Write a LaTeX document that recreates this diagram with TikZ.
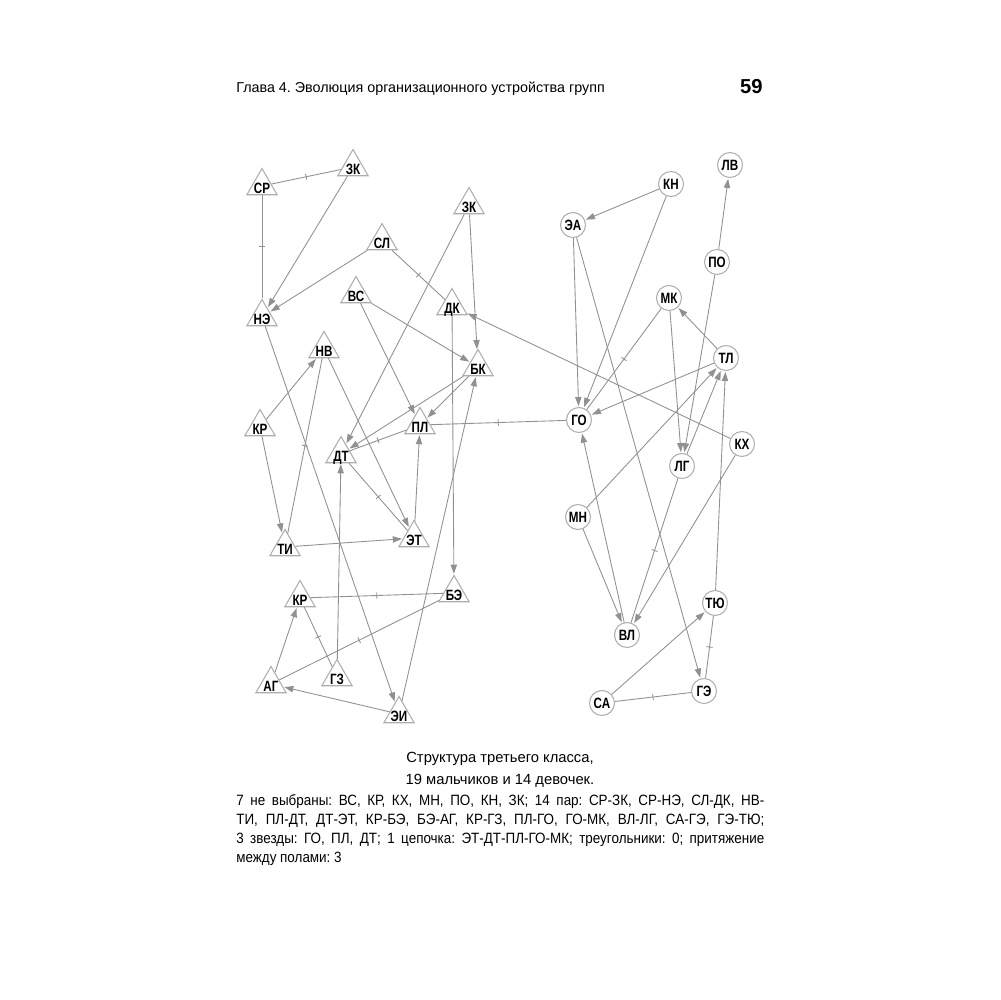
\documentclass[tikz,border=0pt]{standalone}
\usepackage{fontspec}
\setmainfont{Liberation Sans}
\newfontfamily\lblfont[FakeStretch=0.78]{Liberation Sans}
\newfontfamily\txtfont[FakeStretch=0.9]{Liberation Sans}
\usetikzlibrary{arrows.meta,shapes.geometric}
\frenchspacing

\definecolor{edgegray}{gray}{0.57}
\definecolor{rimgray}{gray}{0.68}

\tikzset{
  boy/.style={regular polygon, regular polygon sides=3, draw=rimgray, line width=0.6pt,
    inner sep=0pt, minimum size=0.7cm},
  girl/.style={circle, draw=rimgray, line width=0.6pt, inner sep=0pt, minimum size=0.5cm,
    font=\lblfont\bfseries\fontsize{8.5}{9}\selectfont},
  arr/.style={draw=edgegray, line width=0.5pt, -{Triangle[length=5.2pt,width=3.6pt]}, shorten >=0.5pt},
  pair/.style={draw=edgegray, line width=0.5pt},
  pairmark/.style={sloped, draw=edgegray, line width=0.5pt, inner sep=0pt,
    minimum width=0pt, minimum height=3.5pt},
  notefont/.style={font=\txtfont\fontsize{8.5}{10}\selectfont}
}
% triangle label: baseline near the base of the triangle
\newcommand{\tri}[1]{\smash{\makebox[0pt]{\raisebox{-4.4pt}{\lblfont\bfseries\fontsize{8.5}{9}\selectfont #1}}}}

\begin{document}
\begin{tikzpicture}[x=0.02cm, y=-0.02cm]
\useasboundingbox (0,0) rectangle (1000,1000);

% Running head
\node[anchor=base west, inner sep=0pt, font=\fontsize{8.15}{9}\selectfont] (head) at (236,93)
  {Глава 4. Эволюция организационного устройства групп};
\node[anchor=base east, inner sep=0pt, font=\bfseries\fontsize{11.5}{12}\selectfont] (page) at (763,94) {59};

% Boys (triangles)
\foreach \n/\x/\y/\t in {SR/262/186/СР, ZK/353/167/ЗК, ZKb/469/205/ЗК, SL/382/241/СЛ,
    VS/356/294/ВС, DK/452/306/ДК, NE/262/317/НЭ, NV/324/349/НВ, BK/478/367/БК,
    KR/260/427/КР, PL/420/425/ПЛ, DT/341/454/ДТ, TI/285/547/ТИ, ET/414/538/ЭТ,
    KRb/300/598/КР, BE/454/593/БЭ, AG/271/684/АГ, GZ/337/677/ГЗ, EI/399/714/ЭИ} {
    \node[boy] (\n) at (\x,\y) {\tri{\t}};
}

% Girls (circles)
\foreach \n/\x/\y/\t in {LV/730/165/ЛВ, KN/671/184/КН, EA/573/225/ЭА, PO/717/262/ПО,
    MK/669/298/МК, TL/726/358/ТЛ, GO/579/420/ГО, KH/742/444/КХ, LG/682/466/ЛГ,
    MN/578/517/МН, TYu/715/603/ТЮ, VL/627/635/ВЛ, GE/704/691/ГЭ, SA/602/703/СА} {
    \node[girl] (\n) at (\x,\y) {\t};
}

% One-way choices
\foreach \a/\b in {ZK/NE, SL/NE, VS/BK, VS/PL, ZKb/DT, ZKb/BK, KH/DK, DK/BE, NE/EI,
    KR/NV, NV/ET, BK/DT, BK/PL, KR/TI, TI/ET, ET/PL, GZ/DT, EI/BK, AG/KRb, EI/AG,
    KN/EA, KN/GO, EA/GO, EA/GE, PO/LV, PO/LG, MK/LG, TL/MK, TL/GO, LG/TL, MN/TL,
    TYu/TL, VL/GO, KH/VL, MN/VL, SA/TYu} {
    \draw[arr] (\a) -- (\b);
}

% Mutual pairs
\foreach \a/\b in {SR/ZK, SR/NE, SL/DK, NV/TI, PL/DT, DT/ET, KRb/BE, BE/AG, KRb/GZ,
    PL/GO, GO/MK, VL/LG, SA/GE, GE/TYu} {
    \draw[pair] (\a) -- node[pairmark] {} (\b);
}

% Caption
\node[anchor=base, font=\fontsize{8.4}{10}\selectfont] (cap1) at (500,762) {Структура третьего класса,};
\node[anchor=base, font=\fontsize{8.4}{10}\selectfont] (cap2) at (500,784) {19 мальчиков и 14 девочек.};
\node[anchor=base west, inner sep=0pt, notefont] (note1) at (236,805)
  {\makebox[10.56cm][s]{7 не выбраны: ВС, КР, КХ, МН, ПО, КН, ЗК; 14 пар: СР-ЗК, СР-НЭ, СЛ-ДК, НВ-}};
\node[anchor=base west, inner sep=0pt, notefont] (note2) at (236,824)
  {\makebox[10.56cm][s]{ТИ, ПЛ-ДТ, ДТ-ЭТ, КР-БЭ, БЭ-АГ, КР-ГЗ, ПЛ-ГО, ГО-МК, ВЛ-ЛГ, СА-ГЭ, ГЭ-ТЮ;}};
\node[anchor=base west, inner sep=0pt, notefont] (note3) at (236,843)
  {\makebox[10.56cm][s]{3 звезды: ГО, ПЛ, ДТ; 1 цепочка: ЭТ-ДТ-ПЛ-ГО-МК; треугольники: 0; притяжение}};
\node[anchor=base west, inner sep=0pt, notefont] (note4) at (236,862) {между полами: 3};
\end{tikzpicture}
\end{document}
